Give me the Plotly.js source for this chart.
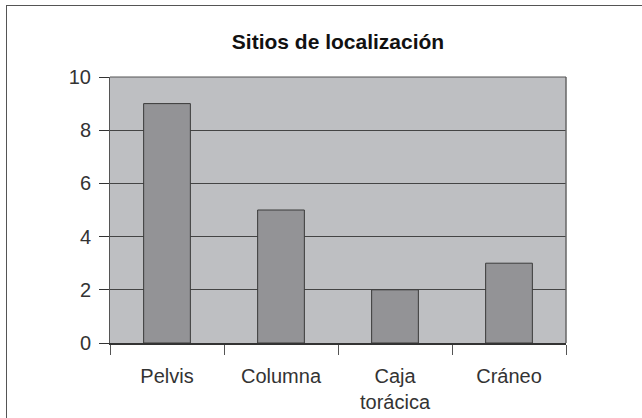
<!DOCTYPE html>
<html>
<head>
<meta charset="utf-8">
<script src="https://cdn.plot.ly/plotly-3.0.1.min.js"></script>
<style>
html,body{margin:0;padding:0;background:#fff;overflow:hidden;}
#wrap{position:relative;width:642px;height:418px;}
#chart{position:absolute;left:0;top:0;width:642px;height:418px;}
#frame{position:absolute;left:6px;top:5px;width:700px;height:500px;border:1.5px solid #555;pointer-events:none;}
</style>
</head>
<body>
<div id="wrap"><div id="chart"></div><div id="frame"></div></div>
<script>
const categories = ["Pelvis", "Columna", "Caja<br>torácica", "Cráneo"];
const values = [9, 5, 2, 3];
const yTicks = [0, 2, 4, 6, 8, 10];
const chartTitle = "Sitios de localización";

const trace = {
  type: "bar",
  x: categories,
  y: values,
  width: 0.41,
  marker: {color: "#939396", line: {color: "#3a3a3a", width: 1}},
  hoverinfo: "none"
};

const layout = {
  width: 642, height: 418,
  margin: {l: 110, r: 76, t: 77, b: 75},
  paper_bgcolor: "#ffffff",
  plot_bgcolor: "#bebfc2",
  showlegend: false,
  title: {
    text: "<b>" + chartTitle + "</b>",
    font: {family: "Liberation Sans, Arial, sans-serif", size: 21, color: "#111"},
    x: 0.5, xref: "paper", xanchor: "center",
    y: 1 - 42/418, yref: "container", yanchor: "middle"
  },
  font: {family: "Liberation Sans, Arial, sans-serif", size: 20, color: "#333"},
  xaxis: {
    type: "category",
    tickson: "boundaries",
    ticks: "outside", ticklen: 10, tickcolor: "#555", tickwidth: 1,
    showline: true, linecolor: "#333", linewidth: 1.5,
    showgrid: false, zeroline: false,
    tickfont: {size: 20, color: "#333"},
    ticklabelstandoff: 14,
    mirror: false
  },
  yaxis: {
    range: [0, 10],
    tickvals: yTicks,
    ticks: "outside", ticklen: 10, tickcolor: "#333", tickwidth: 1,
    showline: true, linecolor: "#555", linewidth: 1,
    showgrid: true, gridcolor: "#444", gridwidth: 1,
    zeroline: false,
    tickfont: {size: 20, color: "#333"},
    ticklabelstandoff: 4
  },
  shapes: [
    {type: "line", xref: "paper", yref: "paper", x0: 1, x1: 1, y0: 0, y1: 1, line: {color: "#666", width: 1.5}},
    {type: "line", xref: "paper", yref: "paper", x0: 0, x1: 1, y0: 1, y1: 1, line: {color: "#555", width: 1}}
  ]
};

Plotly.newPlot("chart", [trace], layout, {displayModeBar: false, staticPlot: true});
</script>
</body>
</html>
